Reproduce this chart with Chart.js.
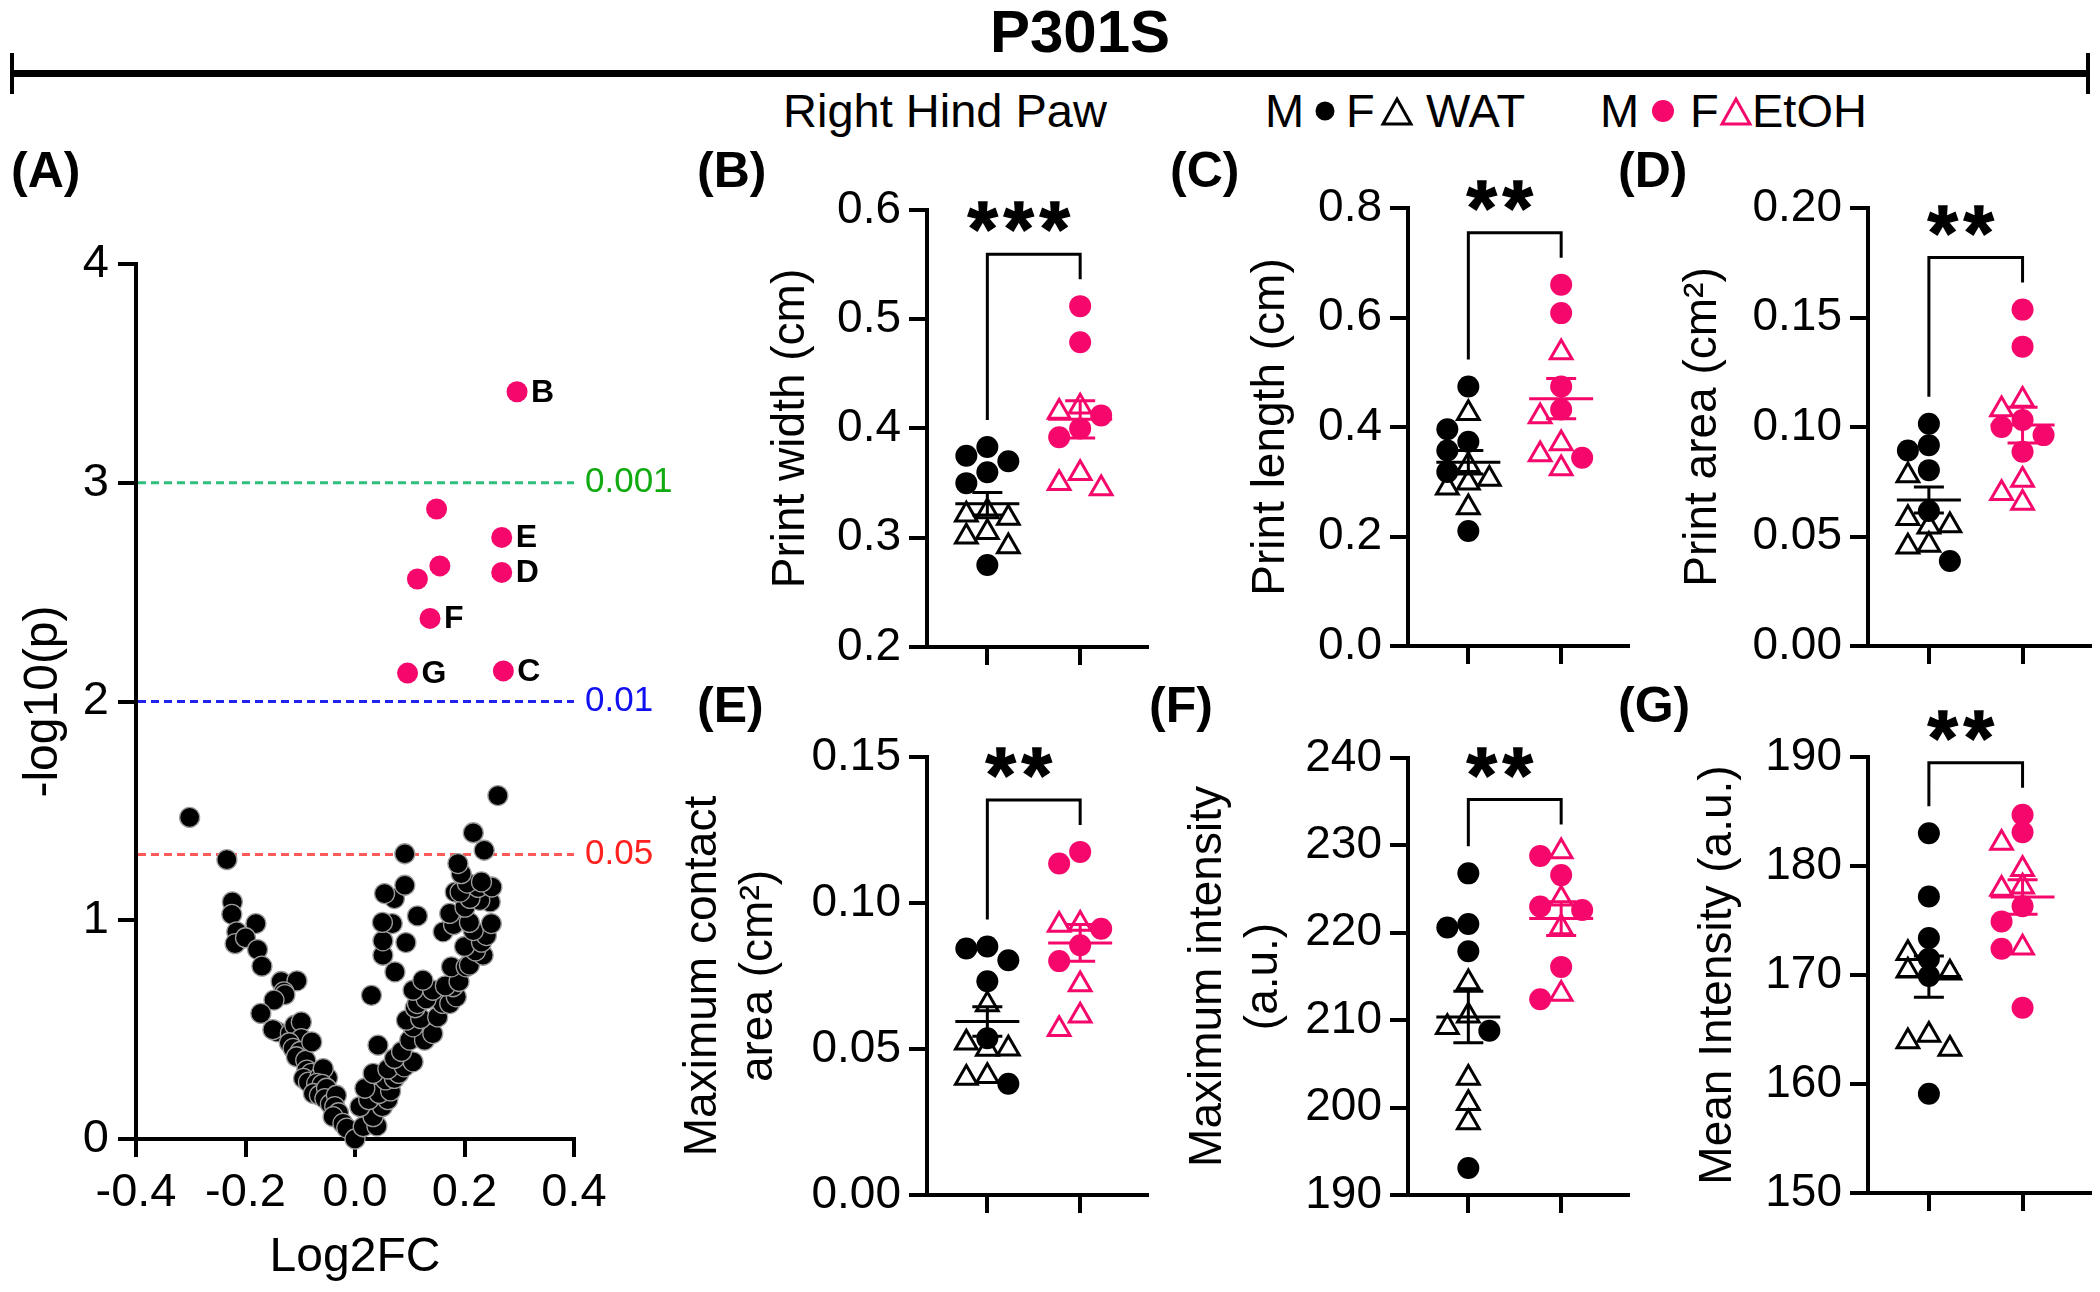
<!DOCTYPE html>
<html><head><meta charset="utf-8">
<script src="https://cdn.jsdelivr.net/npm/chart.js@4.4.1/dist/chart.umd.min.js"></script>
<style>
html,body{margin:0;padding:0;background:#fff;}
body{width:2100px;height:1292px;position:relative;overflow:hidden;font-family:'Liberation Sans',Arial,Helvetica,sans-serif;color:#000;}
.abs{position:absolute;white-space:nowrap;line-height:1;}
canvas{position:absolute;}
</style></head><body>
<div class="abs" style="left:980px;width:200px;text-align:center;top:2px;font-size:60px;font-weight:bold;">P301S</div>
<div style="position:absolute;left:12px;top:70px;width:2076px;height:7px;background:#000"></div>
<div style="position:absolute;left:10px;top:53px;width:4px;height:41px;background:#000"></div>
<div style="position:absolute;left:2086px;top:53px;width:4px;height:41px;background:#000"></div>
<div class="abs" style="left:783px;top:87px;font-size:47px;">Right Hind Paw</div>
<div class="abs" style="left:1265px;top:87px;font-size:47px;">M</div>
<div class="abs" style="left:1346px;top:87px;font-size:47px;">F</div>
<div class="abs" style="left:1426px;top:87px;font-size:47px;">WAT</div>
<div class="abs" style="left:1600px;top:87px;font-size:47px;">M</div>
<div class="abs" style="left:1690px;top:87px;font-size:47px;">F</div>
<div class="abs" style="left:1752px;top:87px;font-size:47px;">EtOH</div>
<svg style="position:absolute;left:0;top:0" width="2100" height="140">
  <circle cx="1325" cy="111" r="9.5" fill="#000"/>
  <polygon points="1383,124 1411,124 1397,99" fill="none" stroke="#000" stroke-width="3"/>
  <circle cx="1663" cy="111" r="11" fill="#f5076b"/>
  <polygon points="1722,124 1750,124 1736,99" fill="none" stroke="#f5076b" stroke-width="3"/>
</svg>
<div class="abs" style="left:11px;top:145px;font-size:50px;font-weight:bold;">(A)</div>
<div class="abs" style="left:697px;top:145px;font-size:50px;font-weight:bold;">(B)</div>
<div class="abs" style="left:1170px;top:145px;font-size:50px;font-weight:bold;">(C)</div>
<div class="abs" style="left:1618px;top:145px;font-size:50px;font-weight:bold;">(D)</div>
<div class="abs" style="left:697px;top:680px;font-size:50px;font-weight:bold;">(E)</div>
<div class="abs" style="left:1149px;top:680px;font-size:50px;font-weight:bold;">(F)</div>
<div class="abs" style="left:1618px;top:680px;font-size:50px;font-weight:bold;">(G)</div>
<script>
// ---------------- DATA ----------------
// Panel A: volcano plot (Log2FC vs -log10(p))
const volcanoLog2FC = [-0.302,-0.234,-0.224,-0.225,-0.181,-0.216,-0.219,-0.200,-0.178,-0.170,-0.135,-0.106,-0.130,-0.128,-0.148,-0.172,-0.142,-0.150,-0.118,-0.110,-0.098,-0.098,-0.120,-0.113,-0.100,-0.107,-0.090,-0.079,-0.088,-0.080,-0.094,-0.085,-0.064,-0.050,-0.058,-0.070,-0.060,-0.076,-0.065,-0.052,-0.055,-0.045,-0.034,-0.037,-0.030,-0.040,-0.022,-0.015,0.000,
 0.015,0.040,0.033,0.009,0.050,0.025,0.060,0.044,0.065,0.018,0.056,0.072,0.033,0.080,0.060,0.090,0.106,0.072,0.085,0.042,0.100,0.127,0.142,0.106,0.094,0.120,0.151,0.110,0.114,0.160,0.173,0.130,0.185,0.030,0.106,0.142,0.179,0.165,0.190,0.124,0.073,0.176,0.203,0.209,0.051,0.234,0.220,0.200,0.093,0.231,0.051,0.240,0.161,0.216,0.180,0.068,0.249,0.050,0.209,0.114,0.173,0.201,0.247,0.228,0.072,0.210,0.054,0.183,0.192,0.225,0.250,0.091,0.205,0.231,0.194,0.188,0.091,0.236,0.216,0.261];
const volcanoNegLogP = [1.470,1.277,1.084,1.027,0.985,0.947,0.893,0.920,0.866,0.790,0.720,0.723,0.673,0.660,0.635,0.574,0.490,0.500,0.483,0.520,0.535,0.459,0.440,0.414,0.400,0.376,0.360,0.444,0.315,0.300,0.277,0.260,0.285,0.280,0.322,0.254,0.250,0.208,0.200,0.232,0.185,0.160,0.200,0.148,0.120,0.102,0.071,0.050,0.000,
 0.056,0.060,0.102,0.148,0.148,0.180,0.180,0.208,0.220,0.232,0.270,0.277,0.300,0.300,0.320,0.330,0.353,0.368,0.400,0.429,0.452,0.452,0.482,0.513,0.543,0.550,0.558,0.600,0.619,0.620,0.619,0.640,0.650,0.657,0.680,0.680,0.696,0.700,0.720,0.726,0.764,0.787,0.787,0.795,0.840,0.840,0.860,0.880,0.898,0.900,0.906,0.930,0.947,0.953,0.980,0.985,0.985,0.990,0.990,1.020,1.031,1.060,1.084,1.091,1.099,1.100,1.122,1.129,1.129,1.150,1.152,1.160,1.170,1.175,1.213,1.259,1.304,1.320,1.400,1.570];
const sigLog2FC  = [0.296, 0.149, 0.268, 0.155, 0.114, 0.268, 0.137, 0.096, 0.271];
const sigNegLogP = [3.416, 2.880, 2.750, 2.620, 2.560, 2.590, 2.380, 2.130, 2.140];
const sigLabels  = ['B', '', 'E', '', '', 'D', 'F', 'G', 'C'];
const thresholdP = [0.001, 0.01, 0.05];
const thresholdLabels = ['0.001', '0.01', '0.05'];

// Panels B-G: groups WAT (1) and EtOH (2); M = circles, F = triangles
const groupNames = ['WAT', 'EtOH'];
const widthWatM  = [0.383, 0.375, 0.370, 0.360, 0.350, 0.275];
const widthWatF  = [0.324, 0.321, 0.318, 0.305, 0.301, 0.292];
const widthEtohM = [0.512, 0.479, 0.412, 0.400, 0.392];
const widthEtohF = [0.420, 0.415, 0.359, 0.350, 0.345];

const lengthWatM  = [0.474, 0.396, 0.373, 0.357, 0.318, 0.210];
const lengthWatF  = [0.425, 0.330, 0.305, 0.298, 0.289, 0.253];
const lengthEtohM = [0.660, 0.608, 0.474, 0.432, 0.344];
const lengthEtohF = [0.536, 0.419, 0.370, 0.350, 0.324];

const areaWatM  = [0.1015, 0.0917, 0.0893, 0.0803, 0.0616, 0.0388];
const areaWatF  = [0.0779, 0.0583, 0.0550, 0.0545, 0.0461, 0.0453];
const areaEtohM = [0.1536, 0.1367, 0.1032, 0.1000, 0.0963, 0.0887];
const areaEtohF = [0.1123, 0.1080, 0.0758, 0.0698, 0.0653];

const contactWatM  = [0.0851, 0.0844, 0.0804, 0.0732, 0.0537, 0.0381];
const contactWatF  = [0.0652, 0.0521, 0.0501, 0.0500, 0.0407, 0.0401];
const contactEtohM = [0.1175, 0.1135, 0.0912, 0.0855, 0.0801];
const contactEtohF = [0.0928, 0.0925, 0.0721, 0.0614, 0.0568];

const maxIntWatM  = [226.8, 221.0, 220.6, 217.9, 208.8, 193.1];
const maxIntWatF  = [214.3, 210.5, 209.2, 203.4, 200.5, 198.3];
const maxIntEtohM = [228.8, 226.6, 223.0, 222.6, 216.1, 212.4];
const maxIntEtohF = [229.3, 223.9, 220.6, 213.0];

const meanIntWatM  = [183.0, 177.2, 173.4, 171.5, 169.9, 159.1];
const meanIntWatF  = [172.0, 170.4, 170.2, 164.5, 163.9, 163.2];
const meanIntEtohM = [184.7, 183.1, 176.3, 174.9, 172.4, 167.0];
const meanIntEtohF = [182.1, 179.7, 178.1, 177.9, 172.5];

const significance = ['***', '**', '**', '**', '**', '**'];

// ---------------- STYLE / HELPERS ----------------
const FONT = "'Liberation Sans', Arial, Helvetica, sans-serif";
const PINK = '#f5076b';
Chart.defaults.font.family = FONT;
Chart.defaults.color = '#000';

function makeCanvas(r) {
  const c = document.createElement('canvas');
  c.width = r.w; c.height = r.h;
  c.style.left = r.x + 'px'; c.style.top = r.y + 'px';
  c.style.width = r.w + 'px'; c.style.height = r.h + 'px';
  document.body.appendChild(c);
  return c;
}
function layoutFor(rect, area, titleX, lh) {
  const pl = titleX - lh / 2 - rect.x;
  return {
    padding: {left: pl, top: area.t - rect.y, right: rect.x + rect.w - area.r, bottom: 0},
    yWidth: area.l - rect.x - pl,
    xHeight: rect.y + rect.h - area.b
  };
}
const axisGrid = {drawOnChartArea: false, drawTicks: true, tickLength: 18, lineWidth: 4, color: '#000'};
const axisBorder = {display: true, width: 4, color: '#000'};

// mean +/- SEM plugin
const meanSemPlugin = {
  id: 'meanSem',
  afterDatasetsDraw(chart) {
    const {ctx, scales: {x, y}} = chart;
    [1, 2].forEach(cat => {
      const vals = [];
      chart.data.datasets.forEach(ds => ds.data.forEach(p => { if (p.g === cat) vals.push(p.y); }));
      const n = vals.length;
      const mean = vals.reduce((a, b) => a + b, 0) / n;
      const sd = Math.sqrt(vals.reduce((a, b) => a + (b - mean) * (b - mean), 0) / (n - 1));
      const sem = sd / Math.sqrt(n);
      const cx = x.getPixelForValue(cat);
      const ym = y.getPixelForValue(mean), yt = y.getPixelForValue(mean + sem), yb = y.getPixelForValue(mean - sem);
      ctx.save();
      ctx.strokeStyle = cat === 1 ? '#000' : PINK;
      ctx.lineWidth = 3;
      ctx.beginPath();
      ctx.moveTo(cx - 32, ym); ctx.lineTo(cx + 32, ym);
      ctx.moveTo(cx, yt); ctx.lineTo(cx, yb);
      ctx.moveTo(cx - 15, yt); ctx.lineTo(cx + 15, yt);
      ctx.moveTo(cx - 15, yb); ctx.lineTo(cx + 15, yb);
      ctx.stroke();
      ctx.restore();
    });
  }
};
// significance bracket plugin
const bracketPlugin = {
  id: 'bracket',
  afterDraw(chart, args, opts) {
    const {ctx, scales: {x, y}} = chart;
    const maxOf = cat => {
      let m = -Infinity;
      chart.data.datasets.forEach(ds => ds.data.forEach(p => { if (p.g === cat) m = Math.max(m, p.y); }));
      return m;
    };
    const x1 = x.getPixelForValue(1), x2 = x.getPixelForValue(2);
    const l = y.getPixelForValue(maxOf(1)) - 27;
    const r = y.getPixelForValue(maxOf(2)) - 27;
    const top = Math.min(l, r) - 25;
    ctx.save();
    ctx.strokeStyle = '#000'; ctx.lineWidth = 3; ctx.lineJoin = 'miter';
    ctx.beginPath();
    ctx.moveTo(x1, l); ctx.lineTo(x1, top); ctx.lineTo(x2, top); ctx.lineTo(x2, r);
    ctx.stroke();
    // stars
    ctx.font = 'bold 100px ' + FONT;
    let m = ctx.measureText('*');
    const w100 = m.actualBoundingBoxRight + m.actualBoundingBoxLeft;
    const fs = 100 * 30 / w100;
    ctx.font = 'bold ' + fs + 'px ' + FONT;
    m = ctx.measureText('*');
    ctx.fillStyle = '#000';
    ctx.strokeStyle = '#000';
    ctx.lineWidth = 1.5;
    ctx.textAlign = 'center';
    ctx.textBaseline = 'alphabetic';
    const cy = top - 37;
    const base = cy - (m.actualBoundingBoxDescent - m.actualBoundingBoxAscent) / 2;
    const stars = opts.stars || '';
    const n = stars.length, sp = 36, cxm = (x1 + x2) / 2;
    for (let i = 0; i < n; i++) {
      const sx = cxm + (i - (n - 1) / 2) * sp;
      const off = (m.actualBoundingBoxLeft - m.actualBoundingBoxRight) / 2;
      ctx.fillText('*', sx + off, base);
      ctx.strokeText('*', sx + off, base);
    }
    ctx.restore();
  }
};

function swarm(chart) {
  const x = chart.scales.x, y = chart.scales.y;
  const lane = 21;
  [1, 2].forEach(cat => {
    const pts = [];
    chart.data.datasets.forEach(ds => ds.data.forEach((p, i) => { if (p.g === cat) pts.push({p, py: y.getPixelForValue(p.y)}); }));
    pts.sort((a, b) => a.py - b.py);
    const placed = [];
    const order = [0, -1, 1];
    pts.forEach(q => {
      let chosen = null, best = 0, bestO = 0;
      for (const o of order) {
        const ds = placed.filter(s => s.o === o).map(s => Math.abs(s.py - q.py));
        const md = ds.length ? Math.min(...ds) : Infinity;
        if (md >= 17) { chosen = o; break; }
        if (md > best) { best = md; bestO = o; }
      }
      if (chosen === null) chosen = bestO;
      placed.push({o: chosen, py: q.py});
      q.p.x = x.getValueForPixel(x.getPixelForValue(cat) + chosen * lane);
    });
  });
  chart.update('none');
}

function catPanel(p) {
  const canvas = makeCanvas(p.rect);
  const tfs = 46, tlh = p.lineHeight || 1.2;
  const L = layoutFor(p.rect, p.area, p.titleX, tfs * tlh);
  const mk = (vals, cat) => vals.map(v => ({x: cat, y: v, g: cat}));
  const tri = (data, col) => ({data, pointStyle: 'triangle', pointRadius: 12.5, pointBorderColor: col,
      pointBackgroundColor: 'rgba(0,0,0,0)', pointBorderWidth: 3, clip: false});
  const circ = (data, col) => ({data, pointStyle: 'circle', pointRadius: 11, pointBorderColor: col,
      pointBackgroundColor: col, pointBorderWidth: 0, clip: false});
  const chart = new Chart(canvas, {
    type: 'scatter',
    data: {datasets: [
      tri(mk(p.watF, 1), '#000'), tri(mk(p.etohF, 2), PINK),
      circ(mk(p.watM, 1), '#000'), circ(mk(p.etohM, 2), PINK)
    ]},
    options: {
      responsive: false, animation: false, devicePixelRatio: 1, events: [],
      layout: {autoPadding: false, padding: L.padding},
      plugins: {legend: {display: false}, tooltip: {enabled: false}, bracket: {stars: p.stars}},
      scales: {
        x: {type: 'linear', min: 0.35, max: 2.72,
            afterBuildTicks: s => { s.ticks = [{value: 1}, {value: 2}]; },
            ticks: {display: false}, grid: axisGrid, border: axisBorder,
            afterFit: s => { s.height = L.xHeight; }},
        y: {type: 'linear', min: p.yMin, max: p.yMax,
            ticks: {stepSize: p.yStep, padding: 8, color: '#000', font: {family: FONT, size: 46},
                    callback: v => Number(v).toFixed(p.dec)},
            grid: axisGrid, border: axisBorder,
            title: {display: true, text: p.title, color: '#000', padding: {top: 0, bottom: 0},
                    font: {family: FONT, size: tfs, lineHeight: tlh}},
            afterFit: s => { s.width = L.yWidth; }}
      }
    },
    plugins: [meanSemPlugin, bracketPlugin]
  });
  swarm(chart);
}

// ---------------- PANEL A ----------------
(function () {
  const rect = {x: 0, y: 180, w: 700, h: 1112};
  const area = {l: 136, t: 264, r: 574, b: 1139};
  const L = layoutFor(rect, area, 44, 48 * 1.2);
  const black = volcanoLog2FC.map((v, i) => ({x: v, y: volcanoNegLogP[i]}));
  const sig = sigLog2FC.map((v, i) => ({x: v, y: sigNegLogP[i], label: sigLabels[i]}));
  const lineCols = ['#2fbf7c', '#2222ee', '#ff5a5a'];
  const textCols = ['#11aa11', '#1010f0', '#ff2020'];
  const volcanoPlugin = {
    id: 'volcano',
    beforeDatasetsDraw(chart) {
      const {ctx, scales: {x, y}} = chart;
      const x0 = x.getPixelForValue(-0.4), x1 = x.getPixelForValue(0.4);
      thresholdP.forEach((p, i) => {
        const yy = y.getPixelForValue(-Math.log10(p));
        ctx.save();
        ctx.strokeStyle = lineCols[i]; ctx.lineWidth = 3; ctx.setLineDash([8, 5]);
        ctx.beginPath(); ctx.moveTo(x0 + 2, yy); ctx.lineTo(x1, yy); ctx.stroke();
        ctx.setLineDash([]);
        ctx.fillStyle = textCols[i]; ctx.font = '35px ' + FONT;
        ctx.textAlign = 'left'; ctx.textBaseline = 'middle';
        ctx.fillText(thresholdLabels[i], x1 + 11, yy);
        ctx.restore();
      });
    },
    afterDatasetsDraw(chart) {
      const {ctx, scales: {x, y}} = chart;
      ctx.save();
      ctx.fillStyle = '#000'; ctx.font = 'bold 32px ' + FONT;
      ctx.textAlign = 'left'; ctx.textBaseline = 'middle';
      sig.forEach(s => { if (s.label) ctx.fillText(s.label, x.getPixelForValue(s.x) + 14, y.getPixelForValue(s.y) + 1); });
      ctx.restore();
    }
  };
  new Chart(makeCanvas(rect), {
    type: 'scatter',
    data: {datasets: [
      {data: sig, pointRadius: 10.5, pointBackgroundColor: PINK, pointBorderColor: PINK, pointBorderWidth: 0, clip: false},
      {data: black, pointRadius: 10, pointBackgroundColor: '#000', pointBorderColor: '#9c9c9c', pointBorderWidth: 1.3, clip: false}
    ]},
    options: {
      responsive: false, animation: false, devicePixelRatio: 1, events: [],
      layout: {autoPadding: false, padding: L.padding},
      plugins: {legend: {display: false}, tooltip: {enabled: false}},
      scales: {
        x: {type: 'linear', min: -0.4, max: 0.4,
            ticks: {stepSize: 0.2, padding: 8, color: '#000', font: {family: FONT, size: 47},
                    callback: v => { const t = Number(v).toFixed(1); return t === '-0.0' ? '0.0' : t; }},
            grid: axisGrid, border: axisBorder,
            title: {display: true, text: 'Log2FC', color: '#000', padding: {top: 0, bottom: 5},
                    font: {family: FONT, size: 48}},
            afterFit: s => { s.height = L.xHeight; }},
        y: {type: 'linear', min: 0, max: 4,
            ticks: {stepSize: 1, padding: 9, color: '#000', font: {family: FONT, size: 47},
                    callback: v => String(Math.round(v))},
            grid: axisGrid, border: axisBorder,
            title: {display: true, text: '-log10(p)', color: '#000', padding: {top: 0, bottom: 0},
                    font: {family: FONT, size: 48}},
            afterFit: s => { s.width = L.yWidth; }}
      }
    },
    plugins: [volcanoPlugin]
  });
})();

// ---------------- PANELS B-G ----------------
catPanel({rect: {x: 680, y: 130, w: 480, h: 570}, area: {l: 927, t: 210, r: 1147, b: 647}, titleX: 791.5,
  title: 'Print width (cm)', yMin: 0.2, yMax: 0.6, yStep: 0.1, dec: 1,
  watM: widthWatM, watF: widthWatF, etohM: widthEtohM, etohF: widthEtohF, stars: significance[0]});
catPanel({rect: {x: 1150, y: 130, w: 485, h: 570}, area: {l: 1408, t: 208, r: 1628, b: 646}, titleX: 1271.5,
  title: 'Print length (cm)', yMin: 0, yMax: 0.8, yStep: 0.2, dec: 1,
  watM: lengthWatM, watF: lengthWatF, etohM: lengthEtohM, etohF: lengthEtohF, stars: significance[1]});
catPanel({rect: {x: 1625, y: 130, w: 475, h: 570}, area: {l: 1868, t: 208, r: 2090, b: 646}, titleX: 1703.5,
  title: 'Print area (cm\u00B2)', yMin: 0, yMax: 0.2, yStep: 0.05, dec: 2,
  watM: areaWatM, watF: areaWatF, etohM: areaEtohM, etohF: areaEtohF, stars: significance[2]});
catPanel({rect: {x: 650, y: 680, w: 510, h: 612}, area: {l: 927, t: 757, r: 1147, b: 1195}, titleX: 703, lineHeight: 1.217,
  title: ['Maximum contact', 'area (cm\u00B2)'], yMin: 0, yMax: 0.15, yStep: 0.05, dec: 2,
  watM: contactWatM, watF: contactWatF, etohM: contactEtohM, etohF: contactEtohF, stars: significance[3]});
catPanel({rect: {x: 1140, y: 680, w: 495, h: 612}, area: {l: 1408, t: 758, r: 1628, b: 1195}, titleX: 1208.5, lineHeight: 1.217,
  title: ['Maximum intensity', '(a.u.)'], yMin: 190, yMax: 240, yStep: 10, dec: 0,
  watM: maxIntWatM, watF: maxIntWatF, etohM: maxIntEtohM, etohF: maxIntEtohF, stars: significance[4]});
catPanel({rect: {x: 1625, y: 680, w: 475, h: 612}, area: {l: 1868, t: 757, r: 2090, b: 1193}, titleX: 1718.5,
  title: 'Mean Intensity (a.u.)', yMin: 150, yMax: 190, yStep: 10, dec: 0,
  watM: meanIntWatM, watF: meanIntWatF, etohM: meanIntEtohM, etohF: meanIntEtohF, stars: significance[5]});
</script>
</body></html>
